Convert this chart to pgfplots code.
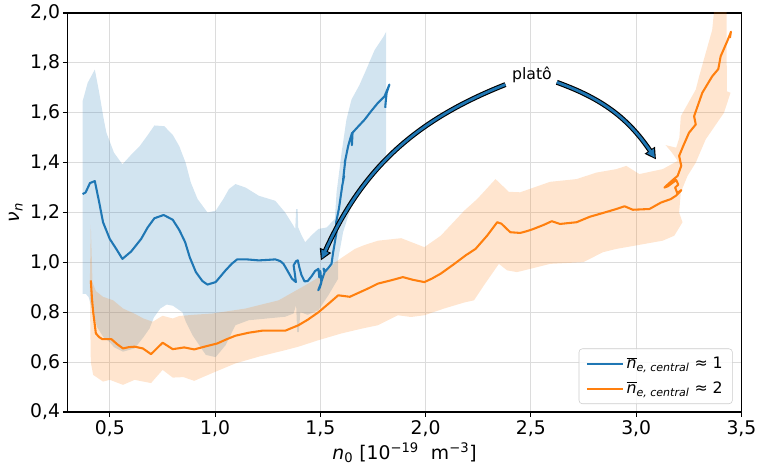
\documentclass[border=0pt]{standalone}
\usepackage{fontspec}
\setmainfont{DejaVu Sans}
\usepackage{pgfplots}
\pgfplotsset{compat=1.18}
\usetikzlibrary{arrows.meta}
\definecolor{c0}{HTML}{1F77B4}
\definecolor{c1}{HTML}{FF7F0E}
\definecolor{gridc}{HTML}{DCDCDC}
\definecolor{legc}{HTML}{CCCCCC}
\begin{document}
\begin{tikzpicture}
\begin{axis}[
  scale only axis, width=488pt, height=289pt,
  xmin=0.30, xmax=3.5, ymin=0.4, ymax=2.0,
  xtick={0.5,1.0,1.5,2.0,2.5,3.0,3.5},
  ytick={0.4,0.6,0.8,1.0,1.2,1.4,1.6,1.8,2.0},
  /pgf/number format/fixed,
  /pgf/number format/fixed zerofill,
  /pgf/number format/precision=1,
  /pgf/number format/use comma,
  /pgf/number format/assume math mode=true,
  tick align=outside, tick pos=left,
  major tick length=3.5pt,
  every tick/.style={black, line width=0.8pt},
  axis line style={line width=0.8pt, black},
  grid=major,
  major grid style={gridc, line width=0.8pt},
  tick label style={font=\fontsize{13.6}{16}\selectfont},
  xticklabel style={yshift=1pt},
  yticklabel style={xshift=1.5pt},
  xlabel={{\itshape n}\textsubscript{0} [10\textsuperscript{−19}\ \ m\textsuperscript{−3}]},
  ylabel={{\itshape ν}\textsubscript{\itshape n}},
  every axis x label/.style={at={(axis description cs:0.5,-0.102)}, anchor=center},
  every axis y label/.style={at={(axis description cs:-0.0766,0.5)}, anchor=center, rotate=90},
  label style={font=\fontsize{13.6}{16}\selectfont},
  legend style={at={(axis description cs:0.987,0.02)}, anchor=south east,
    draw=legc, rounded corners=2.5pt, fill=white, fill opacity=0.8, text opacity=1,
    font=\fontsize{11.4}{13.5}\selectfont, row sep=4pt, inner xsep=5pt, inner ysep=4pt},
  legend cell align=left,
  legend image code/.code={\draw[#1] (0pt,0pt) -- (26pt,0pt);},
]
% blue band
\addplot[draw=none, fill=c0, fill opacity=0.2, forget plot] coordinates {
(0.371,1.646) (0.395,1.720) (0.429,1.773) (0.450,1.680) (0.470,1.580) (0.484,1.520) (0.520,1.440) (0.560,1.393) (0.600,1.430) (0.642,1.466) (0.680,1.510) (0.712,1.549) (0.759,1.546) (0.800,1.510) (0.830,1.466) (0.860,1.400) (0.885,1.320) (0.917,1.254) (0.964,1.200) (1.003,1.207) (1.040,1.255) (1.066,1.294) (1.097,1.314) (1.145,1.300) (1.208,1.267) (1.286,1.247) (1.333,1.200) (1.370,1.150) (1.381,1.134) (1.385,1.214) (1.392,1.214) (1.395,1.140) (1.410,1.110) (1.428,1.081) (1.460,1.110) (1.491,1.134) (1.530,1.140) (1.569,1.174) (1.577,1.280) (1.601,1.440) (1.624,1.573) (1.648,1.653) (1.685,1.710) (1.718,1.773) (1.758,1.852) (1.800,1.905) (1.813,1.925) (1.813,1.700) (1.813,1.410)
(1.726,1.347) (1.648,1.227) (1.608,1.121) (1.585,1.014) (1.585,0.935) (1.538,0.868) (1.491,0.808) (1.440,0.790) (1.405,0.800) (1.398,0.720) (1.390,0.720) (1.385,0.830) (1.373,0.795) (1.333,0.782) (1.160,0.768) (1.097,0.748) (1.050,0.668) (1.003,0.620) (0.956,0.629) (0.893,0.708) (0.862,0.760) (0.845,0.800) (0.800,0.826) (0.770,0.831) (0.740,0.815) (0.710,0.780) (0.689,0.735) (0.660,0.700) (0.618,0.655) (0.563,0.642) (0.520,0.660) (0.500,0.680) (0.470,0.700) (0.440,0.740) (0.420,0.800) (0.400,0.860) (0.386,0.874) (0.371,0.874)
} -- cycle;
% orange band
\addplot[draw=none, fill=c1, fill opacity=0.2, forget plot] coordinates {
(0.405,0.900) (0.410,1.150) (0.418,0.920) (0.434,0.885) (0.468,0.862) (0.516,0.848) (0.563,0.815) (0.616,0.795) (0.660,0.775) (0.704,0.762) (0.751,0.786) (0.799,0.775) (0.830,0.785) (0.900,0.790) (0.987,0.795) (1.145,0.815) (1.302,0.848) (1.428,0.908) (1.522,0.955) (1.569,1.000) (1.664,1.054) (1.711,1.070) (1.774,1.087) (1.884,1.097) (1.994,1.061) (2.072,1.107) (2.183,1.207) (2.245,1.254) (2.332,1.334) (2.395,1.283) (2.449,1.281) (2.591,1.323) (2.717,1.334) (2.811,1.360) (2.906,1.374) (2.953,1.387) (3.015,1.354) (3.126,1.374) (3.197,1.407) (3.170,1.440) (3.140,1.470) (3.190,1.460) (3.205,1.500) (3.212,1.586) (3.283,1.693) (3.299,1.746) (3.330,1.839) (3.361,1.932) (3.375,2.050) (3.430,2.050)
(3.430,1.970) (3.430,1.800) (3.431,1.686) (3.448,1.680) (3.417,1.600) (3.330,1.493) (3.283,1.400) (3.244,1.347) (3.212,1.281) (3.204,1.200) (3.220,1.161) (3.181,1.107) (3.126,1.087) (3.000,1.068) (2.906,1.054) (2.843,1.041) (2.749,1.001) (2.591,0.994) (2.497,0.974) (2.434,0.961) (2.387,0.968) (2.348,0.994) (2.277,0.908) (2.230,0.848) (2.183,0.839) (2.088,0.815) (1.994,0.788) (1.931,0.781) (1.868,0.788) (1.774,0.748) (1.700,0.735) (1.600,0.715) (1.491,0.688) (1.396,0.662) (1.333,0.648) (1.208,0.622) (1.097,0.595) (1.003,0.562) (0.901,0.525) (0.850,0.540) (0.799,0.538) (0.751,0.569) (0.696,0.516) (0.618,0.529) (0.563,0.509) (0.500,0.529) (0.468,0.522) (0.421,0.549) (0.410,0.600)
} -- cycle;
% blue line
\addplot[c0, line width=1.5pt, line join=round] coordinates {
(0.371,1.274) (0.385,1.280) (0.406,1.318) (0.429,1.326) (0.450,1.240) (0.468,1.161) (0.500,1.094) (0.530,1.055) (0.560,1.014) (0.602,1.044) (0.649,1.094) (0.680,1.140) (0.712,1.177) (0.756,1.190) (0.799,1.171) (0.830,1.130) (0.858,1.081) (0.880,1.020) (0.909,0.961) (0.940,0.925) (0.964,0.911) (1.003,0.921) (1.050,0.968) (1.080,0.995) (1.105,1.012) (1.150,1.012) (1.208,1.008) (1.250,1.010) (1.286,1.012) (1.310,1.005) (1.325,0.994) (1.345,0.965) (1.365,0.935) (1.384,0.921) (1.378,0.960) (1.373,0.988) (1.385,1.005) (1.393,1.008) (1.400,0.981) (1.410,0.950) (1.425,0.924) (1.440,0.925) (1.459,0.945) (1.475,0.965) (1.491,0.974) (1.495,0.940) (1.500,0.965) (1.505,0.920) (1.498,0.900) (1.490,0.888) (1.500,0.910) (1.512,0.940) (1.520,0.960) (1.515,0.975) (1.525,0.965) (1.540,0.980) (1.553,0.994) (1.561,1.041) (1.577,1.121) (1.575,1.161) (1.588,1.214) (1.596,1.260) (1.604,1.307) (1.613,1.347) (1.608,1.330) (1.619,1.413) (1.616,1.400) (1.632,1.466) (1.640,1.490) (1.651,1.520) (1.650,1.470) (1.653,1.520) (1.680,1.545) (1.711,1.573) (1.740,1.605) (1.774,1.640) (1.805,1.666) (1.828,1.713) (1.815,1.680) (1.810,1.640) (1.808,1.620)
};
\addlegendentry{$\overline{\mbox{\itshape n}}$\textsubscript{\itshape e, central} ≈ 1}
% orange line
\addplot[c1, line width=1.5pt, line join=round] coordinates {
(0.410,0.928) (0.415,0.860) (0.421,0.802) (0.434,0.715) (0.450,0.700) (0.465,0.692) (0.508,0.692) (0.535,0.672) (0.563,0.655) (0.590,0.660) (0.618,0.662) (0.657,0.655) (0.696,0.632) (0.751,0.678) (0.799,0.652) (0.854,0.659) (0.901,0.651) (0.950,0.662) (1.011,0.675) (1.050,0.690) (1.097,0.706) (1.160,0.718) (1.223,0.726) (1.333,0.726) (1.396,0.748) (1.440,0.770) (1.491,0.800) (1.540,0.835) (1.585,0.868) (1.640,0.862) (1.726,0.895) (1.774,0.915) (1.836,0.928) (1.892,0.941) (1.940,0.930) (1.994,0.921) (2.030,0.935) (2.072,0.955) (2.130,0.990) (2.190,1.028) (2.237,1.054) (2.292,1.107) (2.340,1.161) (2.360,1.155) (2.402,1.121) (2.449,1.118) (2.480,1.125) (2.512,1.134) (2.560,1.150) (2.599,1.165) (2.638,1.154) (2.717,1.161) (2.780,1.183) (2.850,1.200) (2.906,1.214) (2.945,1.225) (2.984,1.211) (3.063,1.214) (3.118,1.240) (3.165,1.254) (3.190,1.268) (3.215,1.290) (3.195,1.278) (3.185,1.300) (3.200,1.312) (3.190,1.330) (3.150,1.305) (3.134,1.300) (3.160,1.320) (3.180,1.335) (3.197,1.347) (3.214,1.387) (3.204,1.427) (3.223,1.466) (3.251,1.520) (3.283,1.553) (3.275,1.586) (3.314,1.680) (3.361,1.746) (3.390,1.775) (3.401,1.826) (3.432,1.886) (3.448,1.919) (3.450,1.925) (3.445,1.900)
};
\addlegendentry{$\overline{\mbox{\itshape n}}$\textsubscript{\itshape e, central} ≈ 2}
% annotation
\node[font=\fontsize{11.4}{13.5}\selectfont] at (axis cs:2.505,1.75) {platô};
\draw[black, line width=3.6pt, -{Triangle[length=8pt,width=8.5pt]}] (axis cs:2.379,1.713) to[bend right=22] (axis cs:1.503,1.008);
\draw[c0, line width=2.0pt, shorten >=1.3pt, -{Triangle[length=6pt,width=5.6pt]}] (axis cs:2.379,1.713) to[bend right=22] (axis cs:1.503,1.008);
\draw[black, line width=3.6pt, -{Triangle[length=8pt,width=8.5pt]}] (axis cs:2.623,1.722) to[bend left=18] (axis cs:3.094,1.413);
\draw[c0, line width=2.0pt, shorten >=1.3pt, -{Triangle[length=6pt,width=5.6pt]}] (axis cs:2.623,1.722) to[bend left=18] (axis cs:3.094,1.413);
\end{axis}
\path ([shift={(-49pt,-41.8pt)}]current axis.south west) rectangle ([shift={(10.8pt,9.4pt)}]current axis.north east);
\end{tikzpicture}
\end{document}
